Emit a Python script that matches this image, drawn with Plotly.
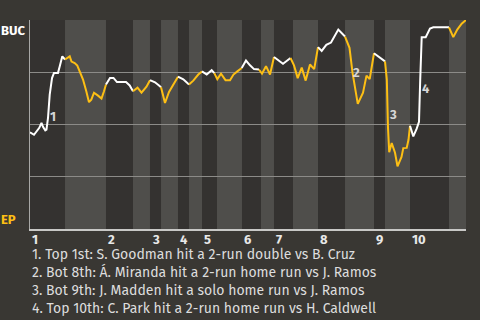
import plotly.graph_objects as go

# ---- data ----
# game progress (0-100) and BUC win probability
progress = [0, 0.92, 2.13, 2.64, 2.98, 3.51, 3.78, 4.13, 4.52, 4.75, 5.05, 5.50, 6.42, 6.81, 7.41, 8.03,
            9.11, 9.52, 10.25, 10.85, 11.47, 12.16, 12.91, 13.53, 14.06, 14.68, 15.60, 16.40, 16.97, 17.43,
            18.35, 19.15, 19.95, 22.02, 22.87, 23.62,
            24.66, 25.57, 26.72, 27.52,
            28.67, 29.59, 30.05,
            30.96, 31.88, 32.87, 33.94,
            35.16, 36.47,
            37.45, 38.60, 39.45,
            40.53, 41.67, 42.27,
            42.96, 43.81, 44.84, 45.87, 46.67, 47.55, 48.56,
            49.54, 50.46, 51.38, 52.52,
            53.21, 54.13, 55.05, 55.96,
            58.03, 59.75,
            60.55, 61.40, 62.32, 63.23, 64.22, 65.18, 66.06,
            66.90, 67.96, 69.04, 70.71, 72.25,
            73.28, 73.97, 75.18, 76.38, 77.18, 77.91, 78.90,
            79.89, 81.42,
            81.84, 82.11, 82.39, 82.96, 83.72, 84.29, 85.21, 85.62, 86.40, 86.81, 87.16,
            87.91, 88.69, 89.22, 89.50, 89.84, 90.76, 91.74, 92.50, 96.10,
            97.09, 98.00, 99.01, 100.0]
win_prob = [0.463, 0.451, 0.484, 0.508, 0.489, 0.472, 0.475, 0.532, 0.643, 0.676, 0.722, 0.747, 0.747, 0.777, 0.826, 0.811,
            0.826, 0.801, 0.794, 0.782, 0.753, 0.715, 0.659, 0.607, 0.619, 0.652, 0.638, 0.624, 0.659, 0.691,
            0.723, 0.723, 0.703, 0.703, 0.687, 0.659,
            0.676, 0.652, 0.681, 0.712,
            0.702, 0.687, 0.678,
            0.603, 0.656, 0.694, 0.729,
            0.716, 0.691,
            0.710, 0.739, 0.754,
            0.739, 0.760, 0.746,
            0.717, 0.743, 0.712, 0.712, 0.739, 0.754, 0.770,
            0.806, 0.783, 0.765, 0.763,
            0.743, 0.779, 0.739, 0.823,
            0.791, 0.818,
            0.783, 0.722, 0.772, 0.710, 0.787, 0.765, 0.870,
            0.852, 0.881, 0.892, 0.954, 0.921,
            0.867, 0.748, 0.599, 0.652, 0.734, 0.717, 0.841,
            0.825, 0.802,
            0.715, 0.484, 0.367, 0.411, 0.365, 0.300, 0.345, 0.387, 0.388, 0.427, 0.494,
            0.443, 0.480, 0.513, 0.715, 0.918, 0.918, 0.959, 0.965, 0.965,
            0.918, 0.954, 0.982, 1.0]

# half-inning boundaries (game progress)
half_bounds = [0, 8.03, 17.43, 23.62, 27.52, 30.05, 33.94, 36.47, 39.45, 42.89, 48.62,
               52.98, 55.96, 60.32, 66.06, 72.25, 78.90, 81.42, 87.16, 96.10, 100]
inning_labels = ["1", "2", "3", "4", "5", "6", "7", "8", "9", "10"]

event_labels = ["1", "2", "3", "4"]
event_x = [5.2, 74.9, 83.2, 90.8]
event_wp = [0.536, 0.747, 0.547, 0.671]
event_notes = [
    "1. Top 1st: S. Goodman hit a 2-run double vs B. Cruz",
    "2. Bot 8th: Á. Miranda hit a 2-run home run vs J. Ramos",
    "3. Bot 9th: J. Madden hit a solo home run vs J. Ramos",
    "4. Top 10th: C. Park hit a 2-run home run vs H. Caldwell",
]
away_team = "BUC"
home_team = "EP"

# ---- style ----
PAPER = "#393733"
DARK = "#343230"
LIGHT = "#4f4e4b"
YELLOW = "#fdbf14"
WHITE = "#ffffff"
FONT = "Fira Sans, Roboto, sans-serif"

def half_of(x):
    for i in range(len(half_bounds) - 1):
        if x <= half_bounds[i + 1]:
            return i
    return len(half_bounds) - 2

fig = go.Figure()

# group consecutive points by half-inning
groups = []
for x, y in zip(progress, win_prob):
    h = half_of(x)
    if groups and groups[-1][0] == h:
        groups[-1][1].append(x)
        groups[-1][2].append(y)
    else:
        if groups:
            px, py = [groups[-1][1][-1]], [groups[-1][2][-1]]
        else:
            px, py = [], []
        groups.append([h, px + [x], py + [y]])

for h, xs, ys in groups:
    fig.add_trace(go.Scatter(x=xs, y=ys, mode="lines",
                             line=dict(color=WHITE if h % 2 == 0 else YELLOW, width=2),
                             hoverinfo="skip", showlegend=False))

shapes = []
for i in range(len(half_bounds) - 1):
    if i % 2 == 1:
        shapes.append(dict(type="rect", xref="x", yref="paper",
                           x0=half_bounds[i], x1=half_bounds[i + 1], y0=0, y1=1,
                           fillcolor=LIGHT, line=dict(width=0), layer="below"))

annotations = []
for k, lab in enumerate(inning_labels):
    annotations.append(dict(x=half_bounds[2 * k], y=0, xref="x", yref="paper",
                            text=lab, showarrow=False, xanchor="left", yanchor="top",
                            yshift=-1, xshift=0,
                            font=dict(family=FONT, size=13, color="#e8e8e8", weight="bold")))
for lab, ex, ey in zip(event_labels, event_x, event_wp):
    annotations.append(dict(x=ex, y=ey, xref="x", yref="y", text=lab, showarrow=False,
                            font=dict(family=FONT, size=13, color="#d6d6d6", weight="bold")))
for k, note in enumerate(event_notes):
    annotations.append(dict(x=0, y=-0.12 - 0.0862 * k, xref="paper", yref="paper",
                            text=note, showarrow=False, xanchor="left", yanchor="middle",
                            font=dict(family=FONT, size=14, color="#dddddd")))
annotations.append(dict(x=0, y=1, xref="paper", yref="paper", text=away_team,
                        showarrow=False, xanchor="right", yanchor="top", xshift=-3, yshift=-1,
                        font=dict(family=FONT, size=13, color=WHITE, weight="bold")))
annotations.append(dict(x=0, y=0, xref="paper", yref="paper", text=home_team,
                        showarrow=False, xanchor="right", yanchor="bottom", xshift=-12, yshift=0,
                        font=dict(family=FONT, size=13, color=YELLOW, weight="bold")))

fig.update_layout(
    width=480, height=320,
    margin=dict(l=30, r=14, t=20, b=91),
    paper_bgcolor=PAPER, plot_bgcolor=DARK,
    shapes=shapes, annotations=annotations,
    xaxis=dict(range=[0, 100], showgrid=False, zeroline=False, showticklabels=False,
               showline=True, linecolor="#c8c8c6", linewidth=2, fixedrange=True),
    yaxis=dict(range=[0, 1], tickvals=[0.25, 0.5, 0.75, 1.0], showticklabels=False,
               showgrid=True, gridcolor="#8c8b88", gridwidth=1, zeroline=False,
               showline=True, linecolor="#a8a8a6", linewidth=1, fixedrange=True),
)

fig.write_html("out.html", config={"displayModeBar": False})
